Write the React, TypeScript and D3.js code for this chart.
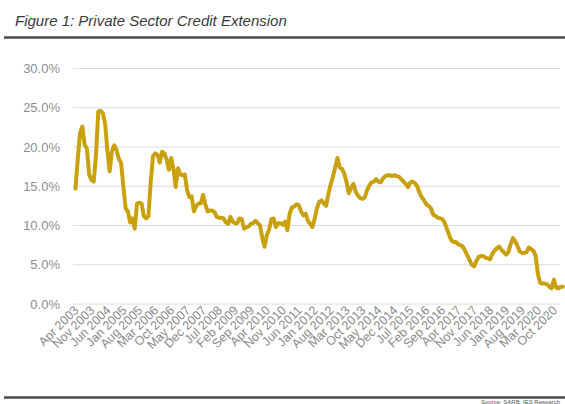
import React, { useEffect, useRef } from "react";
import * as d3 from "d3";

const START_YEAR = 2003;
const START_MONTH = 3; // April (0-based)
const MONTH_NAMES = ["Jan","Feb","Mar","Apr","May","Jun","Jul","Aug","Sep","Oct","Nov","Dec"];

const creditGrowth: number[] = [
  14.7, 18.5, 21.8, 22.6, 20.3, 19.8, 16.5, 15.8, 15.6, 19.0,
  24.5, 24.6, 24.3, 23.0, 19.5, 16.9, 19.5, 20.2, 19.6, 18.5,
  18.0, 15.0, 12.2, 11.8, 10.4, 10.9, 9.6, 12.8, 12.9, 12.8,
  11.2, 10.9, 11.2, 15.5, 18.8, 19.2, 19.0, 18.0, 19.4, 19.2,
  18.4, 17.1, 18.6, 17.2, 14.9, 17.3, 16.5, 16.4, 16.5, 14.5,
  13.6, 13.7, 11.8, 12.5, 12.8, 12.8, 13.9, 12.7, 11.8, 11.9,
  11.9, 11.7, 11.1, 11.0, 11.0, 10.9, 10.4, 10.2, 11.1, 10.5,
  10.3, 10.3, 10.9, 10.8, 9.6, 9.8, 9.9, 10.2, 10.3, 10.6,
  10.3, 10.0, 8.4, 7.3, 8.8, 9.5, 10.8, 10.9, 9.8, 10.3,
  10.3, 10.1, 10.5, 9.4, 11.5, 12.3, 12.4, 12.7, 12.6, 11.8,
  11.3, 11.5, 10.6, 10.2, 9.8, 10.9, 12.2, 13.0, 13.2, 12.8,
  12.5, 14.0, 15.2, 16.2, 17.4, 18.6, 17.4, 17.2, 16.6, 15.5,
  14.1, 14.8, 15.3, 14.3, 13.8, 13.5, 13.4, 13.6, 14.5, 15.1,
  15.5, 15.6, 15.9, 15.6, 15.5, 16.0, 16.3, 16.4, 16.4, 16.3,
  16.4, 16.3, 16.2, 15.9, 15.6, 15.3, 14.9, 15.5, 15.6, 15.4,
  15.0, 14.2, 13.6, 13.2, 12.7, 12.5, 12.2, 11.4, 11.2, 11.0,
  10.9, 10.8, 10.4, 9.6, 8.8, 8.1, 7.9, 7.9, 7.6, 7.5,
  7.3, 6.8, 6.2, 5.6, 5.0, 4.8, 5.5, 6.0, 6.1, 6.1,
  5.9, 5.8, 5.7, 6.4, 6.8, 7.1, 7.3, 6.9, 6.6, 6.3,
  6.6, 7.6, 8.4, 8.0, 7.4, 6.7, 6.5, 6.5, 6.6, 7.2,
  7.0, 6.8, 6.1, 3.8, 2.7, 2.6, 2.6, 2.5, 2.2, 2.0,
  3.1, 2.1, 2.0, 2.2, 2.2,
];

const monthLabels: string[] = creditGrowth.map((_, i) => {
  const m = START_MONTH + i;
  return `${MONTH_NAMES[m % 12]} ${START_YEAR + Math.floor(m / 12)}`;
});

const yTicks: number[] = [0, 5, 10, 15, 20, 25, 30];
const LABEL_STEP = 7;

const TITLE = "Figure 1: Private Sector Credit Extension";
const SOURCE = "Source: SARB, IES Research";

export default function App() {
  const ref = useRef<SVGSVGElement | null>(null);

  useEffect(() => {
    const svg = d3.select(ref.current);
    svg.selectAll("*").remove();
    const W = 565, H = 404;
    const font = "Arial, 'Liberation Sans', sans-serif";

    const x = d3.scaleLinear().domain([0, creditGrowth.length - 1]).range([75.5, 563]);
    const y = d3.scaleLinear().domain([0, 30]).range([304, 68.5]);

    svg.append("text")
      .attr("x", 15).attr("y", 26)
      .attr("font-family", font)
      .attr("font-style", "italic")
      .attr("font-size", 15)
      .attr("fill", "#3a3a3a")
      .text(TITLE);

    svg.append("line")
      .attr("x1", 4).attr("x2", W).attr("y1", 37.5).attr("y2", 37.5)
      .attr("stroke", "#4a4a4a").attr("stroke-width", 2.5);

    svg.append("g").selectAll("line").data(yTicks).join("line")
      .attr("x1", 73).attr("x2", 560)
      .attr("y1", d => y(d)).attr("y2", d => y(d))
      .attr("stroke", "#dcdcdc").attr("stroke-width", 1.2);

    svg.append("g").selectAll("text").data(yTicks).join("text")
      .attr("x", 60).attr("y", d => y(d) + 4.5)
      .attr("text-anchor", "end")
      .attr("font-family", font)
      .attr("font-size", 13)
      .attr("fill", "#8f8f8f")
      .text(d => d.toFixed(1) + "%");

    const idx = d3.range(0, creditGrowth.length, LABEL_STEP);
    svg.append("g").selectAll("text").data(idx).join("text")
      .attr("transform", d => `translate(${x(d) + 4},${311}) rotate(-45)`)
      .attr("text-anchor", "end")
      .attr("font-family", font)
      .attr("font-size", 12.5)
      .attr("fill", "#8a8a8a")
      .text(d => monthLabels[d]);

    const line = d3.line<number>()
      .x((_, i) => x(i))
      .y(d => y(d))
      .curve(d3.curveLinear);

    svg.append("path")
      .datum(creditGrowth)
      .attr("d", line)
      .attr("fill", "none")
      .attr("stroke", "#C9A10E")
      .attr("stroke-width", 4)
      .attr("stroke-linejoin", "round")
      .attr("stroke-linecap", "round");

    svg.append("line")
      .attr("x1", 4).attr("x2", W).attr("y1", 397.5).attr("y2", 397.5)
      .attr("stroke", "#4a4a4a").attr("stroke-width", 2.5);

    svg.append("text")
      .attr("x", 560).attr("y", 403.5)
      .attr("text-anchor", "end")
      .attr("font-family", font)
      .attr("font-size", 6)
      .attr("fill", "#555")
      .text(SOURCE);

    svg.attr("width", W).attr("height", H);
  }, []);

  return (
    <div style={{ position: "fixed", left: 0, top: 0, width: 565, height: 404, background: "#fff" }}>
      <svg ref={ref} width={565} height={404} style={{ display: "block" }} />
    </div>
  );
}
